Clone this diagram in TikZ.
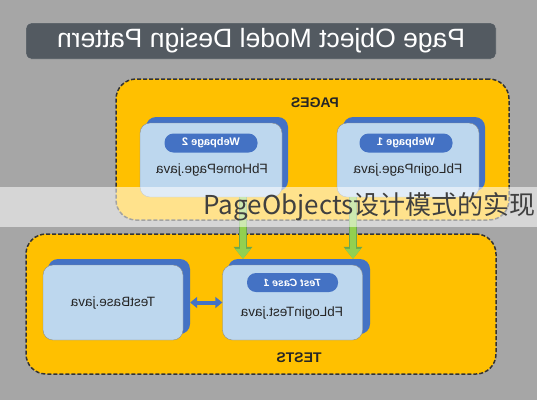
\documentclass[tikz,border=0pt]{standalone}
\usepackage{fontspec}
\setmainfont{Liberation Sans}
\newfontfamily\cjk{Noto Sans CJK SC}
\usetikzlibrary{arrows.meta,positioning}
\definecolor{bggray}{HTML}{A6A6A6}
\definecolor{titlegray}{HTML}{535A61}
\definecolor{pageyellow}{HTML}{FFC000}
\definecolor{cardblue}{HTML}{4472C4}
\definecolor{cardlight}{HTML}{BDD7EE}
\definecolor{arrowgreen}{HTML}{92D050}
\definecolor{arrowdark}{HTML}{6AA84F}
\newcommand{\flip}[1]{\scalebox{-1}[1]{#1}}
\tikzset{
  titlebar/.style={fill=titlegray, draw=gray!60, rounded corners=5pt, minimum width=470, minimum height=36,
    text=white, font=\fontsize{26.5}{26.5}\selectfont},
  groupbox/.style={fill=pageyellow, draw=black!80, line width=1.5pt, dash pattern=on 4pt off 2pt,
    rounded corners=20pt},
  grouplabel/.style={font=\bfseries\fontsize{14}{14}\selectfont, text=black!85},
  backcard/.style={fill=cardblue, rounded corners=10pt, minimum width=142, minimum height=74},
  frontcard/.style={fill=cardlight, draw=black!45, rounded corners=10pt, minimum width=142, minimum height=74},
  pill/.style={fill=cardblue, rounded corners=9pt, minimum width=93, minimum height=19, inner sep=0pt,
    text=white, font=\bfseries\fontsize{11}{11}\selectfont},
  filename/.style={font=\fontsize{13.5}{13.5}\selectfont, text=black!85},
  greenarrow/.style={draw=arrowgreen, line width=6pt, -{Triangle[width=15pt,length=10pt]},
    preaction={draw=arrowdark, line width=8pt, -{Triangle[width=18pt,length=12pt]}}},
  bluearrow/.style={draw=cardblue, line width=4pt,
    {Triangle[width=11pt,length=7pt]}-{Triangle[width=11pt,length=7pt]}},
}
\begin{document}
\begin{tikzpicture}[x=1pt,y=-1pt]
    \useasboundingbox (0,0) rectangle (537,400);
    \fill[bggray] (0,0) rectangle (537,400);
    % title bar
    \node[titlebar] (title) at (261,41) {\flip{Page Object Model Design Pattern}};
    % pages group
    \node[groupbox, minimum width=393, minimum height=141] (pages) at (312.5,149.5) {};
    \node[grouplabel] (pageslabel) at (315,103) {\flip{PAGES}};
    % webpage 2
    \node[backcard] (wp2back) at (217,154) {};
    \node[frontcard] (wp2) at (211,160) {};
    \node[pill] (wp2tag) at (211,143) {\flip{Webpage 2}};
    \node[filename] (wp2name) at (212,170) {\flip{FbHomePage.java}};
    % webpage 1
    \node[backcard] (wp1back) at (414,154) {};
    \node[frontcard] (wp1) at (408,160) {};
    \node[pill] (wp1tag) at (406,143) {\flip{Webpage 1}};
    \node[filename] (wp1name) at (408,170) {\flip{FbLoginPage.java}};
    % tests group
    \node[groupbox, minimum width=470, minimum height=140] (tests) at (261,304) {};
    \node[grouplabel] (testslabel) at (299,358) {\flip{TESTS}};
    % test base
    \node[backcard, minimum height=75] (basebck) at (119,296.5) {};
    \node[frontcard, minimum width=140, minimum height=75] (testbase) at (113,302.5) {};
    \node[filename] (basename) at (113,303) {\flip{TestBase.java}};
    % login test
    \node[backcard, minimum height=75] (loginbck) at (299,296.5) {};
    \node[frontcard, minimum width=140, minimum height=75] (logintest) at (292.5,302.5) {};
    \node[pill, minimum width=91, font=\bfseries\itshape\fontsize{10.5}{10.5}\selectfont] (logintag) at (292.5,282.5) {\flip{Test Case 1}};
    \node[filename] (loginname) at (292,313) {\flip{FbLoginTest.java}};
    % connectors
    \coordinate (g2) at (243,0);
    \coordinate (g1) at (353,0);
    \draw[greenarrow] (wp2.south -| g2) -- (loginbck.north -| g2);
    \draw[greenarrow] (wp1.south -| g1) -- (loginbck.north -| g1);
    \draw[bluearrow] (testbase.east -| basebck.east) -- (logintest.west);
    % watermark band
    \fill[white, opacity=0.55] (0,187) rectangle (537,227);
    \node[anchor=east, inner sep=0pt, text=black!75, font=\cjk\fontsize{26}{26}\selectfont] (mark) at (536,207) {PageObjects设计模式的实现};
\end{tikzpicture}
\end{document}
